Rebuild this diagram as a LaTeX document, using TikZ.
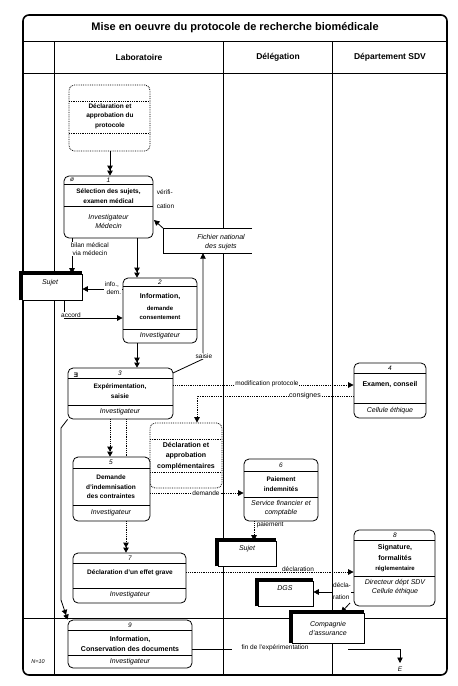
\documentclass[tikz,border=0pt]{standalone}
\usepackage{fontspec}
\setmainfont{Liberation Sans}
\usepackage{graphicx}
\usetikzlibrary{arrows.meta,fit}
\newcommand{\procnode}[7]{%
  \node[proc, fit={(#2,#3)(#4,#5)}] (#1) {};
  \draw[line width=0.7pt] (#2,#6) -- (#4,#6) (#2,#7) -- (#4,#7);
}
\newcommand{\entnode}[5]{%
  \node[ent, fit={(#2,#3)(#4,#5)}] (#1) {};
  \draw[line width=3pt] ([xshift=-1.5pt]#1.south west) |- ([yshift=1.5pt]#1.north east);
}
\begin{document}
\begin{tikzpicture}[x=1pt,y=-1pt,
  proc/.style={draw, rounded corners=5pt, inner sep=0pt, fill=white, line width=0.8pt},
  dbox/.style={draw, densely dotted, rounded corners=5pt, inner sep=0pt, line width=0.8pt},
  ent/.style={draw, inner sep=0pt, fill=white, line width=0.7pt},
  ttl/.style={font=\fontsize{6.5}{9.5}\selectfont\bfseries, align=center, inner sep=0pt},
  ttlb/.style={font=\fontsize{7}{10.5}\selectfont\bfseries, align=center, inner sep=0pt},
  ttls/.style={font=\fontsize{6}{9.5}\selectfont\bfseries, align=center, inner sep=0pt},
  role/.style={font=\fontsize{7}{9}\selectfont\itshape, align=center, inner sep=0pt},
  num/.style={font=\fontsize{6.5}{8}\selectfont\itshape, inner sep=0pt},
  lbl/.style={font=\fontsize{6.5}{8.5}\selectfont, align=left, inner sep=0.6pt},
  wl/.style={lbl, fill=white},
  sgl/.style={-{Triangle[width=5.5pt,length=5.5pt]}, line width=0.8pt},
  dbl/.style={-{Triangle[width=5.5pt,length=5pt]Triangle[width=5.5pt,length=5pt]}, line width=0.8pt},
  dot/.style={densely dotted},
  hdr/.style={font=\fontsize{8.5}{10}\selectfont\bfseries, inner sep=0pt}
]
\useasboundingbox (0,0) rectangle (458,686);
% frame and lanes
\draw[line width=1.6pt, rounded corners=6pt] (23,15) rectangle (447,675);
\draw[line width=0.8pt] (23,41) -- (447,41) (23,73) -- (447,73) (23,618) -- (447,618);
\draw[line width=0.8pt] (54,41) -- (54,675) (223,41) -- (223,675) (332,41) -- (332,675);
\node[font=\fontsize{11}{13}\selectfont\bfseries, inner sep=0pt] (title) at (235,28) {Mise en oeuvre du protocole de recherche biomédicale};
\node[hdr] (hlab) at (139,57) {Laboratoire};
\node[hdr] (hdel) at (278,57) {Délégation};
\node[hdr] (hdep) at (390,57) {Département SDV};

% dotted box 1
\node[dbox, fit={(69,85)(150,151)}] (d1) {};
\draw[dot, line width=0.8pt] (69,101) -- (150,101) (69,133) -- (150,133);
\node[ttl] (d1t) at (110,116) {Déclaration et\\approbation du\\protocole};

% node 1
\procnode{n1}{64}{176}{153}{238}{184}{206}
\node[num] (n1n) at (108.5,180) {1};
\node[num] (n1i) at (72,180) {ø};
\node[ttl] (n1t) at (108.5,196) {Sélection des sujets,\\examen médical};
\node[role] (n1r) at (108.5,221) {Investigateur\\Médecin};

% fichier national
\node[fill=white, inner sep=0pt, fit={(164,229)(252,253)}] (fns) {};
\draw[line width=0.8pt] (fns.north east) -- (fns.north west) -- (fns.south west) -- (fns.south east);
\node[role] (fnst) at (221,242) {Fichier national\\des sujets};

\draw[dbl] (d1.south -| 110,0) -- (n1.north -| 110,0);
\draw[sgl] (fns.north west) -- (154,220);
\node[lbl, anchor=north west] (lver) at (156,189) {vérifi-\\[5pt]cation};

% sujet 1
\entnode{s1}{22}{274}{82}{300}
\node[role] (s1t) at (50,283) {Sujet};
\draw[sgl] (72,238) -- (s1.north -| 72,0);
\node[wl, anchor=west] (lbil) at (70,249) {bilan médical\\\ via médecin};

% node 2
\procnode{n2}{123}{278}{197}{343}{286}{329}
\node[num] (n2n) at (160,282) {2};
\node[ttlb] (n2t) at (160,297) {Information,};
\node[ttls] (n2u) at (160,313) {demande\\consentement};
\node[role] (n2r) at (160,336) {Investigateur};
\draw[dbl] (n1.south -| 137,0) -- (n2.north -| 137,0);
\draw[sgl] (n2.west |- 0,289) -- (s1.east |- 0,289);
\node[wl] (linf) at (113,288) {info.,\\\ dem.};
\draw[sgl] (s1.south -| 64,0) -- (64,318) -- (n2.west |- 0,318);
\node[wl] (lacc) at (71,315) {accord};

% node 3
\procnode{n3}{68}{368}{173}{419}{378}{405}
\node[num] (n3n) at (120,373) {3};
\node[font=\fontsize{6.5}{8}\selectfont\bfseries, inner sep=0pt] (n3i) at (76,375) {\reflectbox{E}};
\node[ttl] (n3t) at (120,391) {Expérimentation,\\saisie};
\node[role] (n3r) at (120,412) {Investigateur};
\draw[dbl] (n2.south -| 137,0) -- (n3.north -| 137,0);
\draw[sgl] (173,373) -- (203,359) -- (fns.south -| 203,0);
\node[wl] (lsai) at (204,356) {saisie};

% node 4
\procnode{n4}{354}{363}{426}{418}{373}{403}
\node[num] (n4n) at (390,368) {4};
\node[ttlb] (n4t) at (390,384) {Examen, conseil};
\node[role] (n4r) at (390,411) {Cellule éthique};
\draw[sgl, dot] (n3.east |- 0,385) -- (n4.west |- 0,385);
\node[wl] (lmod) at (267,384) {modification protocole};

% dotted box 2
\node[dbox, fit={(150,423)(222,488)}] (d2) {};
\draw[dot, line width=0.8pt] (150,439) -- (222,439) (150,472) -- (222,472);
\node[ttlb] (d2t) at (186,456) {Déclaration et\\approbation\\complémentaires};
\draw[sgl, dot] (n4.west |- 0,396) -- (197,396) -- (d2.north -| 197,0);
\node[wl, font=\fontsize{7}{8}\selectfont] (lcon) at (305,396) {consignes};

% node 5
\procnode{n5}{73}{457}{150}{521}{468}{505}
\node[num] (n5n) at (111,462) {5};
\node[ttl] (n5t) at (111,487) {Demande\\d'indemnisation\\des contraintes};
\node[role] (n5r) at (111,513) {Investigateur};
\draw[dbl, dot] (n3.south -| 110,0) -- (n5.north -| 110,0);
\draw[dot, line width=0.8pt] (n3.south -| 126,0) -- (n5.north -| 126,0);

% node 6
\procnode{n6}{244}{459}{318}{521}{471}{497}
\node[num] (n6n) at (281,465) {6};
\node[ttl] (n6t) at (281,484) {Paiement\\indemnités};
\node[role] (n6r) at (281,508) {Service financier et\\comptable};
\draw[sgl, dot] (n5.east |- 0,493) -- (n6.west |- 0,493);
\node[wl] (ldem) at (206,493) {demande};

% sujet 2
\entnode{s2}{218}{541}{276}{566}
\node[role] (s2t) at (247,549) {Sujet};
\draw[sgl, dot] (n6.south -| 254,0) -- (s2.north -| 254,0);
\node[lbl, anchor=west] (lpai) at (256,525) {paiement};

% node 7
\procnode{n7}{73}{553}{186}{603}{563}{588}
\node[num] (n7n) at (130,558) {7};
\node[ttl] (n7t) at (130,573) {Déclaration d'un effet grave};
\node[role] (n7r) at (130,595) {Investigateur};
\draw[dbl, dot] (n5.south -| 126,0) -- (n7.north -| 126,0);

% node 8
\procnode{n8}{354}{530}{435}{606}{540}{576}
\node[num] (n8n) at (395,535) {8};
\node[ttlb] (n8t) at (395,552.5) {Signature,\\formalités};
\node[ttls] (n8u) at (395,569) {réglementaire};
\node[role] (n8r) at (395,587) {Directeur dépt SDV\\Cellule éthique};
\draw[sgl, dot] (n7.east |- 0,572) -- (n8.west |- 0,572);
\node[wl] (ldec) at (298,569) {déclaration};

% DGS and compagnie
\entnode{dgs}{258}{581}{313}{606}
\node[role] (dgst) at (285,588) {DGS};
\entnode{ca}{292}{613}{364}{643}
\node[role] (cat) at (328,628) {Compagnie\\d'assurance};
\draw[sgl] (n8.west |- 0,592) -- (dgs.east |- 0,592);
\draw[sgl] (350,603) -- (ca.north -| 341,0);
\node[wl] (ldcl) at (342,591) {décla-\\[4pt]ration};

% node 9
\procnode{n9}{68}{620}{192}{668}{630}{655}
\node[num] (n9n) at (130,625) {9};
\node[ttlb] (n9t) at (130,644) {Information,\\Conservation des documents};
\node[role] (n9r) at (130,662) {Investigateur};
\draw[dbl] (n3.south west) -- (61,428) -- (61,600) -- (n9.north west);

% end
\coordinate (endp) at (400,663);
\draw[line width=0.8pt] (n9.east |- 0,649) -- (232,649);
\draw[sgl] (348,649) -- (400,649) -- (endp);
\node[lbl] (lfin) at (275,648) {fin de l'expérimentation};
\node[num] (ee) at (400,669) {E};
\node[font=\fontsize{5.5}{7}\selectfont\itshape, inner sep=0pt] (nn) at (38,662) {N=10};
\end{tikzpicture}
\end{document}
